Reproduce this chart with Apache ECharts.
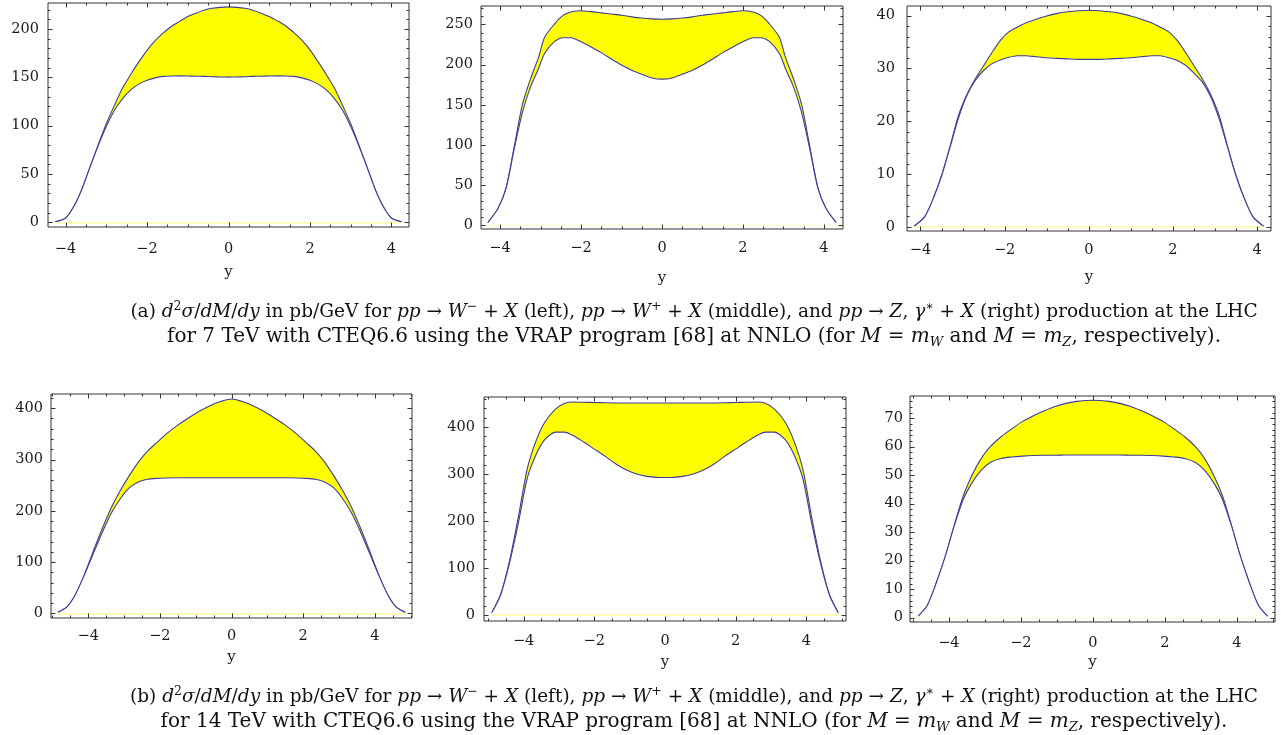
<!DOCTYPE html>
<html>
<head>
<meta charset="utf-8">
<script src="https://cdn.jsdelivr.net/npm/echarts@6/dist/echarts.min.js"></script>
<style>
html,body{margin:0;padding:0;background:#fff;}
#chart{width:1281px;height:735px;}
</style>
</head>
<body>
<div id="chart"></div>
<script>
// ---------------- DATA ----------------
// (a) left: pp -> W- + X, 7 TeV
const y1 = [-4.25,-4.0,-3.8,-3.6,-3.4,-3.2,-3.0,-2.8,-2.6,-2.4,-2.2,-2.0,-1.8,-1.6,-1.4,-1.2,-1.0,-0.8,-0.6,-0.4,-0.2,0,0.2,0.4,0.6,0.8,1.0,1.2,1.4,1.6,1.8,2.0,2.2,2.4,2.6,2.8,3.0,3.2,3.4,3.6,3.8,4.0,4.25];
const upper1 = [0.5,4.2,16,34,57,80,102,121,139,153,166,178,188,196,203,208,213,216.5,219.5,221.5,222.5,223,222.5,221.5,219.5,216.5,213,208.5,203.5,196.5,188.5,178.5,166,153,139,121,102,80,57,34,16,4.2,0.5];
const lower1 = [0.5,4.2,16,34,57,79,99,116,128,137,143,147,149.5,151,151.5,151.6,151.4,151.2,151,150.7,150.4,150.3,150.4,150.7,151,151.2,151.4,151.6,151.5,151,149.5,147,143,137,128,116,99,79,57,34,16,4.2,0.5];

// (a) middle: pp -> W+ + X, 7 TeV
const y2 = [-4.3,-4.05,-3.85,-3.65,-3.45,-3.25,-3.05,-2.9,-2.65,-2.45,-2.25,-2.0,-1.75,-1.5,-1.25,-1.0,-0.75,-0.5,-0.25,0,0.25,0.5,0.75,1.0,1.25,1.5,1.75,2.0,2.25,2.45,2.65,2.9,3.05,3.25,3.45,3.65,3.85,4.05,4.3];
const upper2 = [3.5,21,47,98,150,182,209,234,251,261,265.5,267,266,264.5,263,261.5,259.5,258,257,256.5,257,258,259.5,261.5,263,264.5,266,267,265.5,261,251,234,209,182,150,98,47,21,3.5];
const lower2 = [3.5,21,46,95,140,172,195,214,229,233.5,233.5,228.5,222,215,207,199.5,193,188,183.5,182,183.5,188,193,199.5,207,215,222,228.5,233.5,233.5,229,214,195,172,140,95,46,21,3.5];

// (a) right: pp -> Z, gamma* + X, 7 TeV
const y3 = [-4.15,-3.9,-3.7,-3.5,-3.3,-3.1,-2.9,-2.7,-2.5,-2.3,-2.1,-1.9,-1.7,-1.5,-1.25,-1.0,-0.75,-0.5,-0.25,0,0.25,0.5,0.75,1.0,1.25,1.5,1.7,1.9,2.1,2.3,2.5,2.7,2.9,3.1,3.3,3.5,3.7,3.9,4.15];
const upper3 = [0.15,1.9,5.3,9.7,15.2,21,25,28,30.5,33,35.3,36.9,37.8,38.6,39.3,39.9,40.4,40.7,40.9,41,40.9,40.7,40.4,39.9,39.3,38.6,37.8,36.9,35.3,33,30.5,28,25,21,15.2,9.7,5.3,1.9,0.15];
const lower3 = [0.15,1.9,5.3,9.6,15,20.5,24.8,27.7,29.6,30.9,31.6,32.1,32.4,32.4,32.2,32.0,31.9,31.8,31.7,31.7,31.7,31.8,31.9,32.0,32.2,32.4,32.4,32.0,31.5,30.6,29.1,27.4,24.6,20.4,15,9.6,5.3,1.9,0.15];

// (b) left: pp -> W- + X, 14 TeV
const y4 = [-4.85,-4.6,-4.35,-4.1,-3.85,-3.6,-3.35,-3.1,-2.85,-2.6,-2.35,-2.1,-1.8,-1.5,-1.2,-0.9,-0.6,-0.3,0,0.3,0.6,0.9,1.2,1.5,1.8,2.1,2.35,2.6,2.85,3.1,3.35,3.6,3.85,4.1,4.35,4.6,4.85];
const upper4 = [2,12,38,77,123,167,207,240,269,295,316,332,351,367,381,394,405,413,418,413,405,394,381,367,351,332,316,295,269,240,207,167,123,77,38,12,2];
const lower4 = [2,12,38,76,118,159,196,224,245,256,261.5,263.3,264,264.3,264.3,264.3,264.3,264.3,264.3,264.3,264.3,264.3,264.3,264.3,264,263.3,261.5,256,245,224,196,159,118,76,38,12,2];

// (b) middle: pp -> W+ + X, 14 TeV
const y5 = [-4.9,-4.65,-4.4,-4.15,-3.9,-3.65,-3.4,-3.1,-2.85,-2.6,-2.3,-2.0,-1.7,-1.4,-1.1,-0.8,-0.5,-0.25,0,0.25,0.5,0.8,1.1,1.4,1.7,2.0,2.3,2.6,2.85,3.1,3.4,3.65,3.9,4.15,4.4,4.65,4.9];
const upper5 = [5,44,115,208,310,370,410,438,450,453,452.5,452,451.5,451,451,451,451,451,451,451,451,451,451,451,451.5,452,452.5,453,450,438,410,370,310,208,115,44,5];
const lower5 = [5,43,110,195,290,341,373,389,389,382,368,353,338,322,309,300,295,293,292.5,293,295,300,309,322,338,353,368,382,389,389,373,341,290,195,110,43,5];

// (b) right: pp -> Z, gamma* + X, 14 TeV
const y6 = [-4.85,-4.6,-4.35,-4.1,-3.85,-3.6,-3.35,-3.1,-2.85,-2.55,-2.25,-1.95,-1.65,-1.35,-1.05,-0.75,-0.45,-0.2,0,0.2,0.45,0.75,1.05,1.35,1.65,1.95,2.25,2.55,2.85,3.1,3.35,3.6,3.85,4.1,4.35,4.6,4.85];
const upper6 = [0.6,4.3,12.2,21.5,32.5,42.8,50.2,55.9,60,63.5,66.3,68.9,70.9,72.6,74.1,75.2,75.9,76.2,76.3,76.2,75.9,75.2,74.1,72.6,70.9,68.9,66.3,63.5,60,55.9,50.2,42.8,32.5,21.5,12.2,4.3,0.6];
const lower6 = [0.6,4.3,12.2,21.5,32.3,41.5,47.5,51.8,54.5,55.9,56.4,56.7,56.9,57,57,57.1,57.1,57.1,57.1,57.1,57.1,57.1,57,57,56.9,56.7,56.4,55.9,54.5,51.8,47.5,41.5,32.3,21.5,12.2,4.3,0.6];

// Tick labels / tick positions
const xMajor = [-4,-2,0,2,4];
const xMinorA = [-3.5,-3,-2.5,-1.5,-1,-0.5,0.5,1,1.5,2.5,3,3.5];
const xMinorB = [-5,-4.5,-3.5,-3,-2.5,-1.5,-1,-0.5,0.5,1,1.5,2.5,3,3.5,4.5,5];
const yMajor1 = [0,50,100,150,200];
const yMajor2 = [0,50,100,150,200,250];
const yMajor3 = [0,10,20,30,40];
const yMajor4 = [0,100,200,300,400];
const yMajor5 = [0,100,200,300,400];
const yMajor6 = [0,10,20,30,40,50,60,70];
const yMinor1 = [10,20,30,40,60,70,80,90,110,120,130,140,160,170,180,190,210,220];
const yMinor2 = [10,20,30,40,60,70,80,90,110,120,130,140,160,170,180,190,210,220,230,240,260,270];
const yMinor3 = [2,4,6,8,12,14,16,18,22,24,26,28,32,34,36,38];
const yMinor4 = [20,40,60,80,120,140,160,180,220,240,260,280,320,340,360,380,420];
const yMinor5 = [20,40,60,80,120,140,160,180,220,240,260,280,320,340,360,380,420,440,460];
const yMinor6 = [2,4,6,8,12,14,16,18,22,24,26,28,32,34,36,38,42,44,46,48,52,54,56,58,62,64,66,68,72,74,76];

const axisName = 'y';
const captionA1 = '(a) {i|d}{sup|2}{i|σ}/{i|dM}/{i|dy} in pb/GeV for {i|pp} → {i|W}{sup|−} + {i|X} (left), {i|pp} → {i|W}{sup|+} + {i|X} (middle), and {i|pp} → {i|Z}, {i|γ}{sup|∗} + {i|X} (right) production at the LHC';
const captionA2 = 'for 7 TeV with CTEQ6.6 using the VRAP program [68] at NNLO (for {i2|M} = {i2|m}{sub|W} and {i2|M} = {i2|m}{sub|Z}, respectively).';
const captionB1 = '(b) {i|d}{sup|2}{i|σ}/{i|dM}/{i|dy} in pb/GeV for {i|pp} → {i|W}{sup|−} + {i|X} (left), {i|pp} → {i|W}{sup|+} + {i|X} (middle), and {i|pp} → {i|Z}, {i|γ}{sup|∗} + {i|X} (right) production at the LHC';
const captionB2 = 'for 14 TeV with CTEQ6.6 using the VRAP program [68] at NNLO (for {i2|M} = {i2|m}{sub|W} and {i2|M} = {i2|m}{sub|Z}, respectively).';

// ---------------- LAYOUT / STYLE ----------------
const FONT = "'DejaVu Serif', 'Liberation Serif', serif";
const LINE = '#3d3d99';
const FILL = '#ffff00';
const FRAME = '#333';
const MAJOR_LEN = 4.5, MINOR_LEN = 2.5;

const panels = [
  {x:y1, hi:upper1, lo:lower1, xMin:xMinorA, yMaj:yMajor1, yMin:yMinor1, xr:[-4.43,4.43], yr:[-4.9,227],  box:[48,3,361,224],   base:true,  lm:15, ym:9,  ng:38},
  {x:y2, hi:upper2, lo:lower2, xMin:xMinorA, yMaj:yMajor2, yMin:yMinor2, xr:[-4.47,4.47], yr:[-4.5,273],  box:[481,6,362,223],  base:false, lm:12, ym:8,  ng:42},
  {x:y3, hi:upper3, lo:lower3, xMin:xMinorA, yMaj:yMajor3, yMin:yMinor3, xr:[-4.32,4.33], yr:[-0.76,41.8],box:[907,6,364,225],  base:true,  lm:12, ym:12, ng:39},
  {x:y4, hi:upper4, lo:lower4, xMin:xMinorB, yMaj:yMajor4, yMin:yMinor4, xr:[-5.04,5.04], yr:[-9,427.7],  box:[51,394,361,224], base:true,  lm:11, ym:8,  ng:32},
  {x:y5, hi:upper5, lo:lower5, xMin:xMinorB, yMaj:yMajor5, yMin:yMinor5, xr:[-5.12,5.12], yr:[-12.3,463.7],box:[484,397,362,224],base:true,  lm:13, ym:9,  ng:34},
  {x:y6, hi:upper6, lo:lower6, xMin:xMinorB, yMaj:yMajor6, yMin:yMinor6, xr:[-5.08,5.06], yr:[-1.5,77.8], box:[910,396,365,226], base:false, lm:14, ym:7,  ng:33}
];

const fmt = v => (v < 0 ? '\u2212' + (-v) : String(v));
const labelStyle = {fontFamily: FONT, fontSize: 14.5, color: '#1a1a1a'};

const grid = [], xAxis = [], yAxis = [], series = [];

panels.forEach((p, i) => {
  grid.push({left: p.box[0], top: p.box[1], width: p.box[2], height: p.box[3],
    show: true, borderColor: FRAME, borderWidth: 1, backgroundColor: 'transparent', containLabel: false});
  xAxis.push({type: 'value', gridIndex: i, min: p.xr[0], max: p.xr[1], position: 'bottom',
    splitLine: {show: false}, axisLine: {show: false, onZero: false}, axisTick: {show: false},
    name: axisName, nameLocation: 'middle', nameGap: p.ng,
    nameTextStyle: {fontFamily: FONT, fontSize: 15, color: '#1a1a1a'},
    axisLabel: Object.assign({show: true, margin: p.lm, customValues: xMajor, formatter: fmt}, labelStyle)});
  yAxis.push({type: 'value', gridIndex: i, min: p.yr[0], max: p.yr[1], position: 'left',
    splitLine: {show: false}, axisLine: {show: false, onZero: false}, axisTick: {show: false},
    axisLabel: Object.assign({show: true, margin: p.ym, customValues: p.yMaj, formatter: fmt}, labelStyle)});

  const hiData = p.x.map((xv, k) => [xv, p.hi[k]]);
  const loData = p.x.map((xv, k) => [xv, p.lo[k]]);
  // upper curve: yellow area down to zero
  series.push({
    type: 'line', xAxisIndex: i, yAxisIndex: i, data: hiData,
    showSymbol: false, smooth: 0.25, lineStyle: {color: LINE, width: 1.1},
    areaStyle: {color: FILL, opacity: 1, origin: 'auto'}, z: 2, silent: true
  });
  // lower curve: white area down to zero, leaving only the band yellow
  const lowerSeries = {
    type: 'line', xAxisIndex: i, yAxisIndex: i, data: loData,
    showSymbol: false, smooth: 0.25, lineStyle: {color: LINE, width: 1.1},
    areaStyle: {color: '#ffffff', opacity: 1, origin: 'auto'}, z: 3, silent: true
  };
  if (p.base) {
    lowerSeries.markLine = {
      silent: true, symbol: 'none', label: {show: false}, animation: false, z: 4,
      lineStyle: {color: '#ffffa8', width: 1.5, type: 'solid'},
      data: [[{coord: [p.x[0], 0]}, {coord: [p.x[p.x.length - 1], 0]}]]
    };
  }
  series.push(lowerSeries);

  // Mathematica-style frame ticks (inward, on all four sides), placed via the axis scales
  const tickData = [];
  xMajor.forEach(v => tickData.push([v, p.yr[0], 0, MAJOR_LEN]));
  p.xMin.forEach(v => tickData.push([v, p.yr[0], 0, MINOR_LEN]));
  p.yMaj.forEach(v => tickData.push([p.xr[0], v, 1, MAJOR_LEN]));
  p.yMin.forEach(v => tickData.push([p.xr[0], v, 1, MINOR_LEN]));
  series.push({
    type: 'custom', xAxisIndex: i, yAxisIndex: i, data: tickData, z: 6, silent: true, clip: false,
    renderItem: (params, api) => {
      const vx = api.value(0), vy = api.value(1), dir = api.value(2), len = api.value(3);
      if (dir === 0) {
        const b = api.coord([vx, p.yr[0]]), t = api.coord([vx, p.yr[1]]);
        const xx = Math.round(b[0]) + 0.5;
        return {type: 'group', children: [
          {type: 'line', shape: {x1: xx, y1: b[1], x2: xx, y2: b[1] - len}, style: {stroke: FRAME, lineWidth: 1}},
          {type: 'line', shape: {x1: xx, y1: t[1], x2: xx, y2: t[1] + len}, style: {stroke: FRAME, lineWidth: 1}}
        ]};
      }
      const l = api.coord([p.xr[0], vy]), r = api.coord([p.xr[1], vy]);
      const yy = Math.round(l[1]) + 0.5;
      return {type: 'group', children: [
        {type: 'line', shape: {x1: l[0], y1: yy, x2: l[0] + len, y2: yy}, style: {stroke: FRAME, lineWidth: 1}},
        {type: 'line', shape: {x1: r[0], y1: yy, x2: r[0] - len, y2: yy}, style: {stroke: FRAME, lineWidth: 1}}
      ]};
    }
  });
});

const CAPFONT = "'DejaVu Serif', serif";
const RICH = {
  i: {fontStyle: 'italic', fontFamily: CAPFONT, fontSize: 18.5, fill: '#111'},
  i2: {fontStyle: 'italic', fontFamily: CAPFONT, fontSize: 20, fill: '#111'},
  sup: {fontFamily: CAPFONT, fontSize: 12.5, verticalAlign: 'top', lineHeight: 13, fill: '#111'},
  sub: {fontFamily: CAPFONT, fontSize: 13, verticalAlign: 'bottom', lineHeight: 10, fill: '#111', fontStyle: 'italic'}
};
function cap(text, y, size) {
  return {type: 'text', x: 694, y: y, silent: true,
    style: {text: text, rich: RICH, align: 'center', verticalAlign: 'middle',
      fontFamily: CAPFONT, fontSize: size, lineHeight: 24, fill: '#111'}};
}

const chart = echarts.init(document.getElementById('chart'), null, {renderer: 'canvas'});
chart.setOption({
  animation: false,
  backgroundColor: '#fff',
  grid, xAxis, yAxis, series,
  graphic: [cap(captionA1, 312, 18.5), cap(captionA2, 337, 20), cap(captionB1, 697, 18.5), cap(captionB2, 722, 20)]
});
</script>
</body>
</html>
